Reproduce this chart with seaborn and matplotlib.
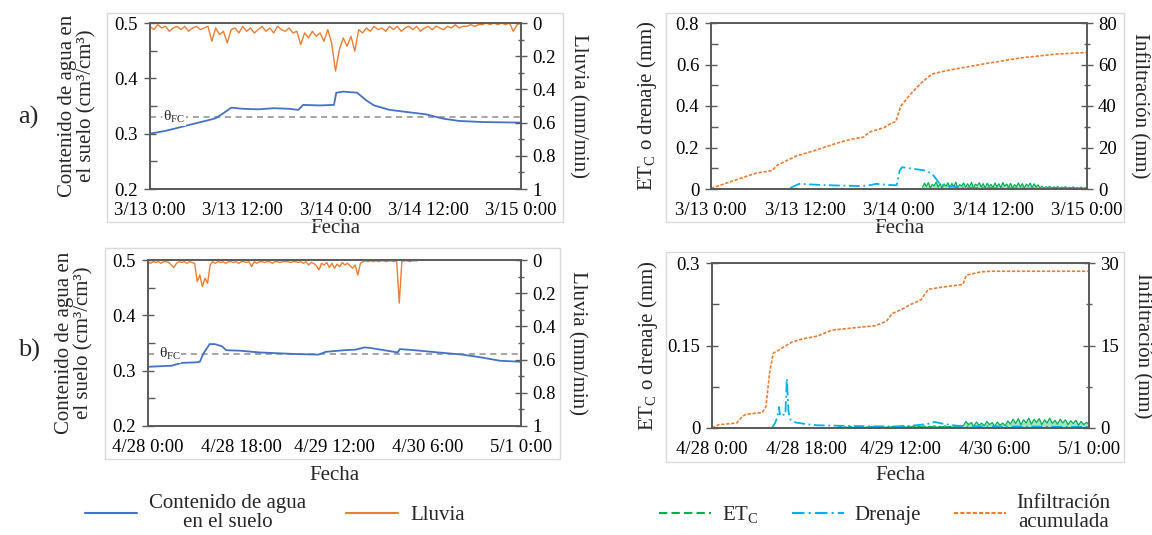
import numpy as np
import seaborn as sns
import matplotlib.pyplot as plt
from matplotlib.lines import Line2D
from matplotlib.patches import Rectangle
from matplotlib.ticker import MultipleLocator, FixedLocator, FuncFormatter

sns.set_theme(style="white")
plt.rcParams['font.family'] = ['Liberation Serif', 'DejaVu Serif']
plt.rcParams['mathtext.fontset'] = 'custom'
plt.rcParams['mathtext.rm'] = 'Liberation Serif'
plt.rcParams['mathtext.it'] = 'Liberation Serif:italic'

# --- datos (tiempo en horas desde el inicio) ---
ticks_a = ["3/13 0:00", "3/13 12:00", "3/14 0:00", "3/14 12:00", "3/15 0:00"]
ticks_b = ["4/28 0:00", "4/28 18:00", "4/29 12:00", "4/30 6:00", "5/1 0:00"]
theta_fc = 0.33

# contenido de agua, evento a)
sw_a_t = [0, 2, 4, 6, 8, 8.5, 9.5, 10.5, 12, 14, 16, 18, 19.2, 19.8, 22, 23.8, 24.1, 25,
          26.8, 28, 29, 31, 33.3, 35.7, 38, 40, 43, 48]
sw_a = [0.300, 0.305, 0.312, 0.319, 0.326, 0.328, 0.337, 0.347, 0.345, 0.344, 0.346, 0.345,
        0.343, 0.352, 0.351, 0.352, 0.374, 0.376, 0.374, 0.360, 0.351, 0.343, 0.339, 0.335,
        0.327, 0.323, 0.321, 0.320]

# lluvia a) cada 30 min
rain_a = [0.02, 0.04, 0.01, 0.03, 0.02, 0.05, 0.03, 0.02,
          0.04, 0.02, 0.05, 0.03, 0.02, 0.04, 0.03, 0.02,
          0.11, 0.03, 0.07, 0.05, 0.12, 0.04, 0.03, 0.06,
          0.02, 0.05, 0.03, 0.06, 0.04, 0.02, 0.05, 0.03,
          0.06, 0.02, 0.04, 0.05, 0.03, 0.06, 0.05, 0.13,
          0.06, 0.09, 0.05, 0.08, 0.06, 0.11, 0.04, 0.12,
          0.29, 0.16, 0.09, 0.14, 0.08, 0.17, 0.04, 0.06,
          0.03, 0.05, 0.02, 0.04, 0.03, 0.05, 0.02, 0.04,
          0.02, 0.05, 0.03, 0.02, 0.04, 0.02, 0.05, 0.03,
          0.02, 0.04, 0.02, 0.03, 0.04, 0.02, 0.03, 0.01,
          0.03, 0.02, 0.02, 0.01, 0.02, 0.01, 0.01, 0.00,
          0.01, 0.00, 0.01, 0.00, 0.01, 0.00, 0.05, 0.01,
          0.00]

# infiltracion acumulada a)
inf_a_t = [0, 5.7, 7.8, 8.5, 10.9, 13.2, 16, 17.9, 19.5, 20.2, 22.1, 23, 23.6, 24.2, 25.4,
           26.8, 28.2, 30, 34.7, 39.4, 44, 48]
inf_a = [0.3, 7.6, 8.9, 11.6, 15.9, 18.5, 22, 24, 25, 27.4, 29.6, 31.7, 32.5, 39.8, 45.4,
         51, 55.4, 57, 60.2, 63.1, 65, 65.8]

# drenaje a)
dr_a_t = [0, 9.8, 10.5, 11.3, 13.7, 16, 19.3, 20.5, 21.1, 22.5, 23.7, 24.1, 24.4, 25.3,
          27.2, 28.2, 28.9, 29.3, 32, 40, 48]
dr_a = [0, 0, 0.012, 0.025, 0.02, 0.017, 0.014, 0.02, 0.025, 0.02, 0.018, 0.09, 0.105,
        0.1, 0.09, 0.075, 0.04, 0.02, 0.006, 0.003, 0.002]

# ETc a) cada 15 min desde 27 h
et_a_start = 27
et_a = [0.008, 0.028, 0.012, 0.031, 0.005, 0.022, 0.015, 0.034, 0.009, 0.026, 0.004, 0.024,
        0.013, 0.030, 0.007, 0.027, 0.011, 0.033, 0.006, 0.021, 0.014, 0.029, 0.008, 0.025,
        0.010, 0.032, 0.005, 0.023, 0.016, 0.030, 0.009, 0.026, 0.004, 0.028, 0.012, 0.022,
        0.007, 0.029, 0.011, 0.025, 0.006, 0.031, 0.013, 0.024, 0.008, 0.027, 0.005, 0.021,
        0.012, 0.030, 0.009, 0.026, 0.004, 0.023, 0.014, 0.028, 0.007, 0.025, 0.010, 0.020,
        0.005, 0.014, 0.003, 0.011, 0.006, 0.013, 0.002, 0.010, 0.004, 0.012, 0.003, 0.009,
        0.005, 0.011, 0.002, 0.008, 0.004, 0.010, 0.002, 0.007, 0.003, 0.009, 0.002, 0.006,
        0.004]

# contenido de agua, evento b)
sw_b_t = [0, 4.6, 6.4, 9.3, 10, 10.7, 11.9, 12.9, 14.3, 15.1, 17.9, 21.4, 28.6, 32.9, 34.3,
          37.9, 40, 41.8, 42.9, 48.2, 48.6, 51.4, 57.1, 60.7, 64.3, 67.9, 72]
sw_b = [0.307, 0.309, 0.314, 0.315, 0.316, 0.331, 0.348, 0.348, 0.344, 0.337, 0.336, 0.333,
        0.330, 0.329, 0.334, 0.337, 0.338, 0.342, 0.341, 0.333, 0.339, 0.337, 0.332, 0.329,
        0.324, 0.318, 0.316]

# lluvia b) cada 30 min (0 a 52 h)
rain_b = [0.01, 0.02, 0.01, 0.015, 0.01, 0.02, 0.01, 0.01,
          0.015, 0.03, 0.045, 0.02, 0.01, 0.015, 0.01, 0.02,
          0.01, 0.015, 0.02, 0.13, 0.09, 0.16, 0.11, 0.14,
          0.03, 0.01, 0.02, 0.01, 0.015, 0.01, 0.02, 0.01,
          0.01, 0.015, 0.01, 0.02, 0.01, 0.01, 0.015, 0.01,
          0.04, 0.01, 0.02, 0.01, 0.01, 0.015, 0.01, 0.01,
          0.02, 0.01, 0.01, 0.015, 0.01, 0.01, 0.01, 0.015,
          0.01, 0.01, 0.015, 0.01, 0.02, 0.01, 0.03, 0.015,
          0.02, 0.035, 0.06, 0.02, 0.03, 0.015, 0.045, 0.02,
          0.05, 0.025, 0.04, 0.015, 0.03, 0.02, 0.035, 0.05,
          0.03, 0.09, 0.02, 0.01, 0.005, 0.01, 0.005, 0.01,
          0.005, 0.01, 0.005, 0.005, 0.01, 0.005, 0.005, 0.01,
          0.005, 0.26, 0.01, 0.005, 0.005, 0.01, 0.005, 0.005,
          0.005]

# infiltracion acumulada b)
inf_b_t = [0, 1.3, 4.7, 5.8, 6.5, 9.6, 10.3, 11, 11.7, 12.8, 15.2, 17.3, 20.1, 22.9, 27,
           31.2, 33.3, 34.4, 36.1, 37.8, 39.9, 41.3, 43.1, 47.9, 48.6, 51.4, 53.5, 72]
inf_b = [0, 0.6, 0.9, 2.1, 2.5, 2.8, 3.9, 10, 13.6, 14.2, 15.6, 16.2, 16.7, 17.8, 18.2,
         18.6, 19.4, 20.8, 21.5, 22.4, 23.3, 25.2, 25.5, 26.1, 27.8, 28.4, 28.5, 28.5]

# drenaje b)
dr_b_t = [0, 11.4, 12, 12.5, 12.8, 13, 13.5, 14, 14.3, 14.6, 15, 16, 18, 20, 25, 31, 35,
          38, 41, 42.5, 44, 46, 48, 72]
dr_b = [0, 0, 0.008, 0.02, 0.038, 0.022, 0.024, 0.024, 0.09, 0.03, 0.015, 0.01, 0.007,
        0.005, 0.004, 0.003, 0.003, 0.004, 0.007, 0.011, 0.008, 0.005, 0.003, 0.002]

# ETc b) cada 30 min desde 24 h
et_b_start = 24
et_b = [0.001, 0.003, 0.0, 0.002, 0.001, 0.003, 0.0, 0.002, 0.001, 0.002, 0.0, 0.002,
        0.001, 0.003, 0.001, 0.002, 0.0, 0.003, 0.001, 0.002, 0.001, 0.003, 0.0, 0.002,
        0.002, 0.004, 0.001, 0.003, 0.002, 0.004, 0.001, 0.003, 0.002, 0.004, 0.001, 0.003,
        0.002, 0.004, 0.001, 0.003, 0.002, 0.004, 0.002, 0.003, 0.001, 0.004, 0.002, 0.003,
        0.004, 0.012, 0.006, 0.010, 0.003, 0.011, 0.005, 0.009, 0.004, 0.012, 0.006, 0.010,
        0.003, 0.011, 0.005, 0.009, 0.004, 0.013, 0.007, 0.016, 0.008, 0.017, 0.006, 0.015,
        0.009, 0.018, 0.007, 0.016, 0.010, 0.017, 0.006, 0.015, 0.009, 0.018, 0.008, 0.014,
        0.007, 0.016, 0.009, 0.015, 0.006, 0.013, 0.008, 0.014, 0.005, 0.012, 0.006, 0.010,
        0.007]

BLUE = "#4472C4"
ORANGE = "#ED7D31"
GREEN = "#00B050"
CYAN = "#00B0F0"
AX_C = "#595959"
FS = 15
TFS = 13.5

fig = plt.figure(figsize=(11.52, 5.35), dpi=100)

# marcos grises de cada grafico (px -> fraccion)
W, H = 1152, 535
for x0, y0, x1, y1 in [(107, 13, 563, 222), (666, 13, 1124, 222),
                       (105, 248, 560, 459), (666, 252, 1124, 462)]:
    fig.patches.append(Rectangle((x0 / W, 1 - y1 / H), (x1 - x0) / W, (y1 - y0) / H,
                                 transform=fig.transFigure, fill=False,
                                 edgecolor="#D9D9D9", lw=1))

fmt = FuncFormatter(lambda v, p: f"{v:g}")


def style(ax, xmax, xstep, xlabels, ylims, ymaj, ymin):
    ax.set_xlim(0, xmax)
    ax.set_ylim(*ylims)
    ax.xaxis.set_major_locator(FixedLocator(np.arange(0, xmax + 1, xstep)))
    ax.set_xticklabels(xlabels)
    ax.xaxis.set_minor_locator(MultipleLocator(xstep / 2))
    ax.yaxis.set_major_locator(MultipleLocator(ymaj))
    ax.yaxis.set_minor_locator(MultipleLocator(ymin))
    ax.yaxis.set_major_formatter(fmt)
    for s in ax.spines.values():
        s.set_color(AX_C)
        s.set_linewidth(1.2)
    ax.tick_params(which="major", direction="inout", length=9, width=1, color=AX_C,
                   labelsize=TFS, labelcolor="black", pad=4)
    ax.tick_params(axis="x", which="major", pad=5)
    ax.tick_params(which="minor", direction="in", length=5, width=1, color=AX_C)
    ax.tick_params(top=False, right=False, which="both")
    ax.set_xlabel("Fecha", fontsize=FS)
    ax.xaxis.label.set_va("center")
    ax.set_facecolor("none")


def style_right(ax2, ylims, ymaj, ymin, invert=False):
    ax2.set_ylim(*ylims)
    if invert:
        ax2.invert_yaxis()
    ax2.yaxis.set_major_locator(MultipleLocator(ymaj))
    ax2.yaxis.set_minor_locator(MultipleLocator(ymin))
    ax2.yaxis.set_major_formatter(fmt)
    for s in ax2.spines.values():
        s.set_color(AX_C)
        s.set_linewidth(1.2)
    ax2.tick_params(which="major", direction="inout", length=9, width=1, color=AX_C,
                    labelsize=TFS, labelcolor="black")
    ax2.tick_params(which="minor", direction="inout", length=5, width=1, color=AX_C)


def soil_panel(rect, xmax, xstep, xlabels, sw_t, sw, rain, xlab_y, ylab_x, rlab_x, fc_x):
    ax = fig.add_axes(rect)
    ax.axhline(theta_fc, color="#8C8C8C", lw=1.1, ls=(0, (4, 3)))
    sns.lineplot(x=sw_t, y=sw, ax=ax, color=BLUE, linewidth=1.3)
    ax.text(fc_x, theta_fc, r"θ$_\mathrm{FC}$", fontsize=11, ha="left", va="center",
            bbox=dict(facecolor="white", edgecolor="none", pad=0.5))
    style(ax, xmax, xstep, xlabels, (0.2, 0.5), 0.1, 0.05)
    ax.set_ylabel("Contenido de agua en\nel suelo (cm³/cm³)", fontsize=FS, linespacing=1.0)
    ax.yaxis.set_label_coords(ylab_x, 0.5)
    ax.yaxis.label.set_va("center")
    ax.xaxis.set_label_coords(0.5, xlab_y)
    ax2 = ax.twinx()
    rt = np.arange(len(rain)) * 0.5
    sns.lineplot(x=rt, y=rain, ax=ax2, color=ORANGE, linewidth=1.0)
    style_right(ax2, (0, 1), 0.2, 0.1, invert=True)
    ax2.set_xlim(0, xmax)
    ax2.set_ylabel("Lluvia (mm/min)", fontsize=FS, rotation=270)
    ax2.yaxis.set_label_coords(rlab_x, 0.5)
    ax2.yaxis.label.set_va("center")
    return ax


def flux_panel(rect, xmax, xstep, xlabels, et_start, et_step, et, dr_t, dr, inf_t, inf,
               ylims, ymaj, ymin, rlims, rmaj, rmin, xlab_y):
    ax = fig.add_axes(rect)
    et_t = et_start + np.arange(len(et)) * et_step
    ax.plot([0, et_start], [0, 0], color=GREEN, lw=1.2, ls=(0, (4, 3)))
    ax.fill_between(et_t, 0, et, color=GREEN, alpha=0.35, lw=0)
    sns.lineplot(x=et_t, y=et, ax=ax, color=GREEN, linewidth=0.9)
    sns.lineplot(x=dr_t, y=dr, ax=ax, color=CYAN, linewidth=1.3, linestyle=(0, (6, 2, 1, 2)))
    style(ax, xmax, xstep, xlabels, ylims, ymaj, ymin)
    ax.set_ylabel(r"ET$_\mathrm{C}$ o drenaje (mm)", fontsize=FS)
    ax.yaxis.set_label_coords(-0.17, 0.5)
    ax.yaxis.label.set_va("center")
    ax.xaxis.set_label_coords(0.5, xlab_y)
    ax2 = ax.twinx()
    sns.lineplot(x=inf_t, y=inf, ax=ax2, color=ORANGE, linewidth=1.2, linestyle=(0, (2, 1)))
    style_right(ax2, rlims, rmaj, rmin)
    ax2.set_xlim(0, xmax)
    ax2.set_ylabel("Infiltración (mm)", fontsize=FS, rotation=270)
    ax2.yaxis.set_label_coords(1.14, 0.5)
    ax2.yaxis.label.set_va("center")
    return ax


soil_panel([150 / W, 1 - 189 / H, 371 / W, 166 / H], 48, 12, ticks_a, sw_a_t, sw_a, rain_a,
           -0.24, -0.197, 1.154, 1.7)
flux_panel([711 / W, 1 - 189 / H, 376 / W, 166 / H], 48, 12, ticks_a, et_a_start, 0.25, et_a,
           dr_a_t, dr_a, inf_a_t, inf_a, (0, 0.8), 0.2, 0.1, (0, 80), 20, 10, -0.24)
soil_panel([148 / W, 1 - 426 / H, 373 / W, 166 / H], 72, 18, ticks_b, sw_b_t, sw_b, rain_b,
           -0.30, -0.198, 1.150, 2.1)
flux_panel([712 / W, 1 - 428 / H, 377 / W, 165 / H], 72, 18, ticks_b, et_b_start, 0.5, et_b,
           dr_b_t, dr_b, inf_b_t, inf_b, (0, 0.3), 0.15, 0.075, (0, 30), 15, 7.5, -0.29)

fig.text(18 / W, 1 - 117 / H, "a)", fontsize=19, ha="left", va="center")
fig.text(18 / W, 1 - 350 / H, "b)", fontsize=19, ha="left", va="center")

h_left = [Line2D([], [], color=BLUE, lw=1.5), Line2D([], [], color=ORANGE, lw=1.5)]
leg1 = fig.legend(h_left, ["Contenido de agua\nen el suelo", "Lluvia"], loc="center",
                  bbox_to_anchor=(275 / W, 1 - 513 / H), ncol=2, frameon=False, fontsize=FS,
                  handlelength=2.5, handletextpad=0.6, columnspacing=1.9)
h_right = [Line2D([], [], color=GREEN, lw=1.5, ls=(0, (4, 2))),
           Line2D([], [], color=CYAN, lw=1.5, ls=(0, (6, 2, 1, 2))),
           Line2D([], [], color=ORANGE, lw=1.5, ls=(0, (2, 1)))]
leg2 = fig.legend(h_right, [r"ET$_\mathrm{C}$", "Drenaje", "Infiltración\nacumulada"],
                  loc="center", bbox_to_anchor=(885 / W, 1 - 513 / H), ncol=3, frameon=False,
                  fontsize=FS, handlelength=2.5, handletextpad=0.5, columnspacing=1.6)
for leg in (leg1, leg2):
    for t in leg.get_texts():
        t.set_multialignment("center")
        t.set_linespacing(1.0)

fig.savefig("out.png", dpi=100)
